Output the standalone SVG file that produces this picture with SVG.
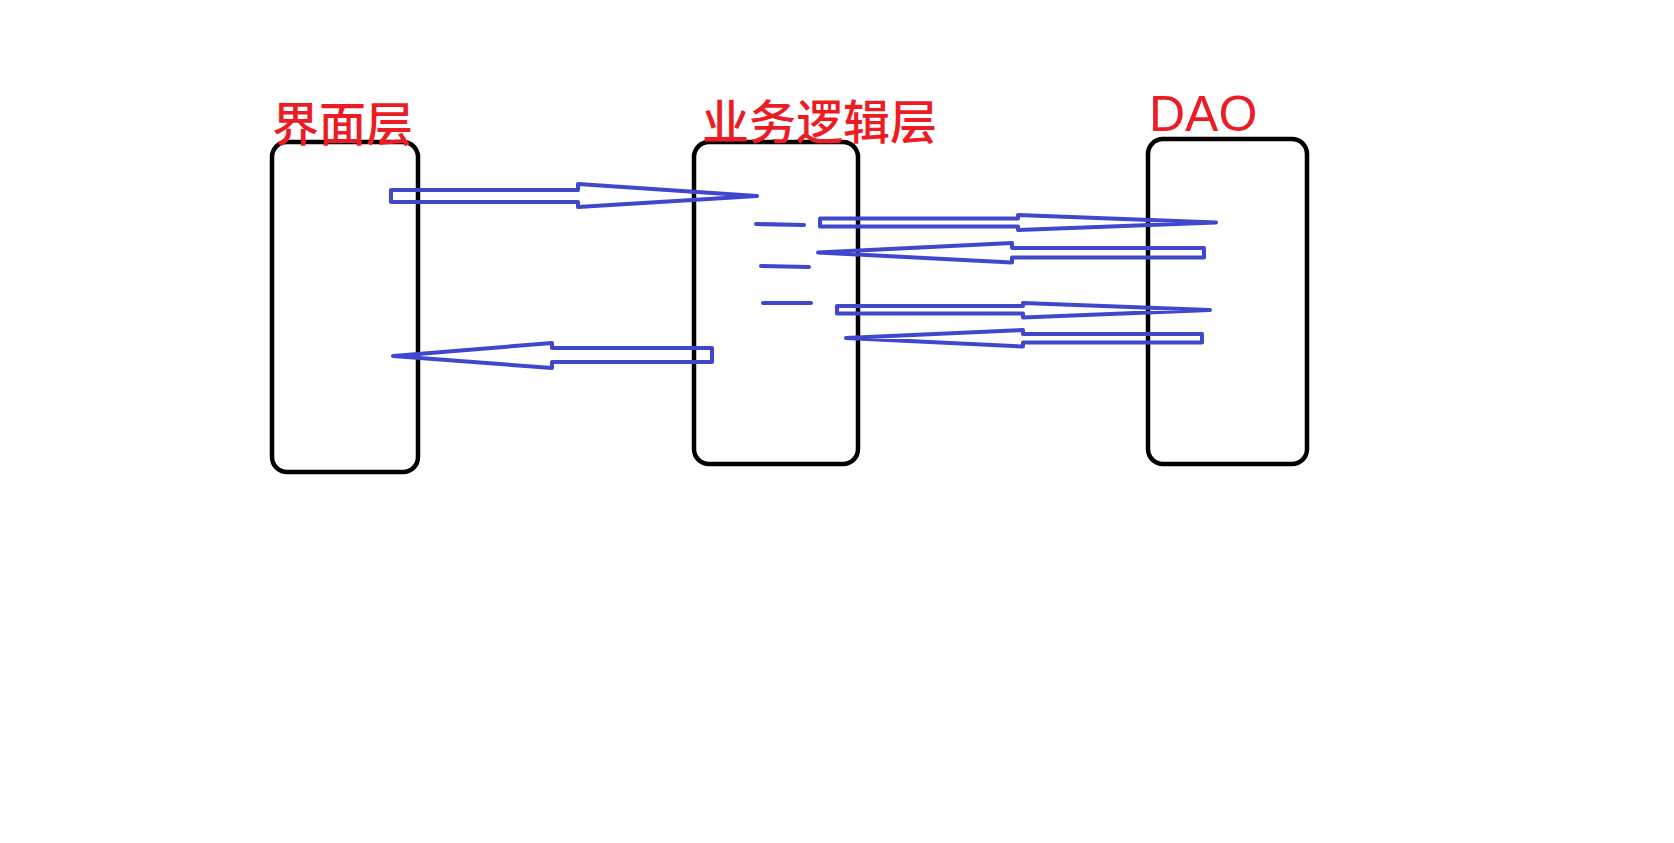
<svg xmlns="http://www.w3.org/2000/svg" width="1674" height="843" viewBox="0 0 1674 843">
<style>
.box{fill:none;stroke:#000;stroke-width:4.5}
.lbl{fill:#ED1C24;font-family:"Noto Sans CJK SC","Noto Sans",sans-serif;font-size:47px;font-weight:500}
.lat{fill:#ED1C24;font-family:"Liberation Sans",Arial,sans-serif;font-size:50px}
.arr{fill:none;stroke:#3F48CC;stroke-width:4;stroke-linejoin:round}
.dash{stroke:#3F48CC;stroke-width:4;stroke-linecap:round}
</style>
<rect width="1674" height="843" fill="#fff"/>
<g id="ui-layer">
<rect class="box" x="272" y="142" width="146" height="330" rx="15"/>
<text class="lbl" x="272" y="141">界面层</text>
</g>
<g id="business-layer">
<rect class="box" x="694" y="142" width="164" height="322" rx="15"/>
<text class="lbl" x="702" y="139">业务逻辑层</text>
</g>
<g id="dao-layer">
<rect class="box" x="1148" y="139" width="159" height="325" rx="15"/>
<text class="lat" x="1149" y="131">DAO</text>
</g>
<g id="marks">
<line class="dash" x1="756" y1="224" x2="804" y2="225"/>
<line class="dash" x1="761" y1="266" x2="809" y2="267"/>
<line class="dash" x1="763" y1="303" x2="811" y2="303"/>
</g>
<g id="connectors">
<polygon class="arr" points="391,190 578,190 578,184 757,196 578,207 578,202 391,202"/>
<polygon class="arr" points="393,356 552,343 552,348 712,348 712,362 552,362 552,368"/>
<polygon class="arr" points="820,218.5 1018,218.5 1018,215 1216,222.5 1018,230 1018,226.5 820,226.5"/>
<polygon class="arr" points="818,252.5 1012,243 1012,248 1204,248 1204,257.5 1012,257.5 1012,262.5"/>
<polygon class="arr" points="837,306 1023,306 1023,303 1210,310 1023,317.5 1023,313.5 837,313.5"/>
<polygon class="arr" points="846,338 1023,330 1023,334 1202,334 1202,342.5 1023,342.5 1023,346.5"/>
</g>
</svg>
